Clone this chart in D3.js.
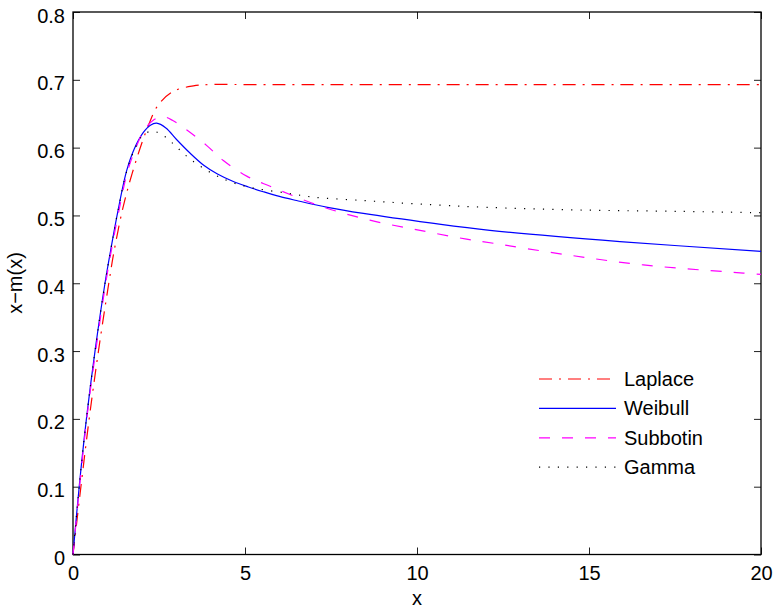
<!DOCTYPE html>
<html>
<head>
<meta charset="utf-8">
<script src="https://cdn.jsdelivr.net/npm/d3@7"></script>
<style>
  body { margin: 0; background: #fff; }
  svg text { font-family: "Liberation Sans", Arial, Helvetica, sans-serif; font-size: 20px; fill: #000; }
</style>
</head>
<body>
<div id="chart"></div>
<script>
// values
const xTicks = [0, 5, 10, 15, 20];
const yTicks = [0, 0.1, 0.2, 0.3, 0.4, 0.5, 0.6, 0.7, 0.8];

const laplaceX = [0, 0.23, 0.47, 0.74, 1.04, 1.2, 1.46, 1.72, 2.14, 2.48, 2.92, 3.5, 4, 5, 10, 15, 20];
const laplaceY = [0, 0.1, 0.2, 0.3, 0.4, 0.449, 0.513, 0.562, 0.626, 0.663, 0.683, 0.691, 0.693, 0.693, 0.693, 0.693, 0.693];

const weibullX = [0, 0.18, 0.39, 0.64, 0.93, 1.1, 1.3, 1.56, 1.78, 2.04, 2.25, 2.43, 2.7, 3.01, 3.4, 3.8, 4.2, 4.66, 5.1, 5.53, 6.0, 6.5, 7.4, 8.44, 10.38, 12.12, 15.9, 20];
const weibullY = [0, 0.1, 0.2, 0.3, 0.4, 0.45, 0.505, 0.566, 0.598, 0.622, 0.633, 0.636, 0.629, 0.612, 0.592, 0.574, 0.561, 0.55, 0.542, 0.535, 0.528, 0.522, 0.512, 0.503, 0.489, 0.478, 0.4615, 0.447];

const subbotinX = [0, 0.19, 0.4, 0.66, 0.95, 1.12, 1.32, 1.58, 1.8, 2.06, 2.35, 2.6, 2.9, 3.31, 3.89, 4.37, 5.05, 5.73, 7.18, 8.63, 10.09, 11.44, 12.22, 14.35, 16.58, 19.49, 20];
const subbotinY = [0, 0.1, 0.2, 0.3, 0.4, 0.45, 0.503, 0.564, 0.596, 0.625, 0.641, 0.646, 0.640, 0.626, 0.603, 0.581, 0.558, 0.543, 0.514, 0.493, 0.478, 0.465, 0.459, 0.442, 0.427, 0.415, 0.413];

const gammaX = [0, 0.18, 0.39, 0.64, 0.93, 1.1, 1.3, 1.56, 1.78, 2.04, 2.29, 2.53, 2.77, 2.97, 3.16, 3.38, 3.6, 3.84, 4.08, 4.32, 4.56, 4.85, 5.1, 5.39, 6.21, 6.99, 8.44, 9.99, 12.0, 14.74, 17.64, 20];
const gammaY = [0, 0.1, 0.2, 0.3, 0.4, 0.45, 0.505, 0.565, 0.596, 0.619, 0.624, 0.621, 0.612, 0.603, 0.594, 0.584, 0.576, 0.568, 0.561, 0.555, 0.55, 0.545, 0.542, 0.539, 0.533, 0.527, 0.522, 0.517, 0.512, 0.508, 0.506, 0.504];

const seriesNames = ['Laplace', 'Weibull', 'Subbotin', 'Gamma'];
const seriesColors = ['#ff0000', '#0000ff', '#ff00ff', '#000000'];
const seriesDash = ['13,7,2,7', null, '11,12', '1.2,8.2'];
const seriesData = [[laplaceX, laplaceY], [weibullX, weibullY], [subbotinX, subbotinY], [gammaX, gammaY]];

const margin = { top: 12, right: 13, bottom: 58.5, left: 73 };
const width = 774 - margin.left - margin.right,
  height = 613 - margin.top - margin.bottom;

const svg = d3.select('#chart').append('svg')
  .attr('width', 774)
  .attr('height', 613)
  .append('g')
  .attr('transform', 'translate(' + margin.left + ',' + margin.top + ')');

const x_scale = d3.scaleLinear().domain([0, 20]).range([0, width]);
const y_scale = d3.scaleLinear().domain([0, 0.8]).range([height, 0]);

// inward ticks on all four sides, like matlab
const styleAxis = (g) => {
  g.select('.domain').remove();
  g.selectAll('.tick line').attr('stroke', '#222').attr('stroke-width', 1);
};

svg.append('g')
  .attr('transform', 'translate(0,' + height + ')')
  .call(d3.axisBottom(x_scale).tickValues(xTicks).tickSizeInner(-7).tickSizeOuter(0).tickPadding(11.5).tickFormat(d3.format('d')))
  .call(styleAxis)
  .call((g) => g.selectAll('text').attr('font-size', 20).attr('font-family', null));

svg.append('g')
  .call(d3.axisTop(x_scale).tickValues(xTicks).tickSizeInner(-7).tickSizeOuter(0).tickFormat(''))
  .call(styleAxis);

svg.append('g')
  .call(d3.axisLeft(y_scale).tickValues(yTicks).tickSizeInner(-7).tickSizeOuter(0).tickPadding(8).tickFormat((d) => d === 0 ? '0' : d3.format('.1f')(d)))
  .call(styleAxis)
  .call((g) => g.selectAll('text').attr('dy', '0.5em').attr('font-size', 20).attr('font-family', null));

svg.append('g')
  .attr('transform', 'translate(' + width + ',0)')
  .call(d3.axisRight(y_scale).tickValues(yTicks).tickSizeInner(-7).tickSizeOuter(0).tickFormat(''))
  .call(styleAxis);

// box
svg.append('rect')
  .attr('x', 0)
  .attr('y', 0)
  .attr('width', width)
  .attr('height', height)
  .attr('fill', 'none')
  .attr('stroke', '#000')
  .attr('stroke-width', 1.3);

const line = d3.line()
  .x((d) => x_scale(d[0]))
  .y((d) => y_scale(d[1]))
  .curve(d3.curveCatmullRom.alpha(0.5));

const curves = svg.append('g').attr('class', 'curves');

seriesData.forEach((s, i) => {
  const pts = s[0].map((xv, j) => [xv, s[1][j]]);
  curves.append('path')
    .datum(pts)
    .attr('fill', 'none')
    .attr('stroke', seriesColors[i])
    .attr('stroke-width', 1.2)
    .attr('stroke-dasharray', seriesDash[i])
    .attr('d', line);
});

// legend
const legend = svg.append('g')
  .attr('transform', 'translate(' + (539 - margin.left) + ',' + (379 - margin.top) + ')');

seriesNames.forEach((name, i) => {
  const row = legend.append('g').attr('transform', 'translate(0,' + (i * 29.4) + ')');
  row.append('line')
    .attr('x1', 0)
    .attr('x2', 77)
    .attr('y1', 0)
    .attr('y2', 0)
    .attr('stroke', seriesColors[i])
    .attr('stroke-width', 1.2)
    .attr('stroke-dasharray', seriesDash[i]);
  row.append('text')
    .attr('x', 85)
    .attr('y', 7)
    .text(name);
});

// axis labels
svg.append('text')
  .attr('x', width / 2)
  .attr('y', 605 - margin.top)
  .attr('text-anchor', 'middle')
  .text('x');

svg.append('text')
  .attr('transform', 'translate(' + (22 - margin.left) + ',' + (283 - margin.top) + ') rotate(-90)')
  .attr('text-anchor', 'middle')
  .text('x\u2212m(x)');
</script>
</body>
</html>
